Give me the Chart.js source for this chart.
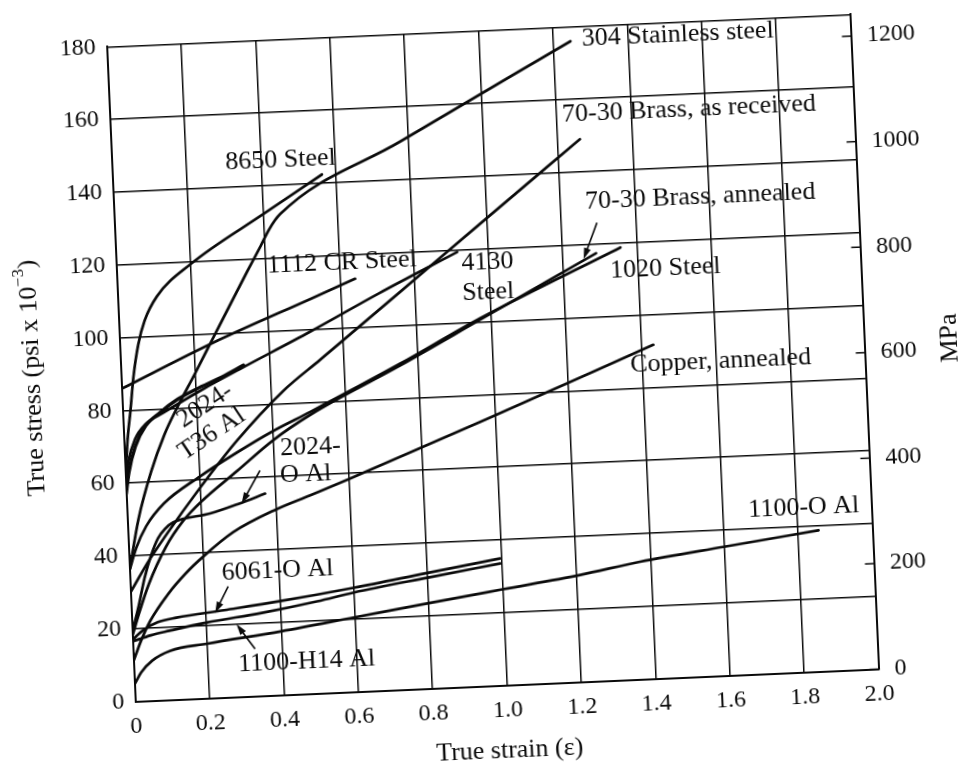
<!DOCTYPE html>
<html>
<head>
<meta charset="utf-8">
<style>
html,body{margin:0;padding:0;background:#fff;overflow:hidden;width:961px;height:767px;}
#wrap{position:absolute;left:0;top:0;width:961px;height:767px;transform-origin:492.5px 355px;transform:rotate(-2.5deg);}
canvas{display:block;}
</style>
<script src="https://cdn.jsdelivr.net/npm/chart.js@4.4.1/dist/chart.umd.min.js"></script>
</head>
<body>
<div id="wrap"><canvas id="c" width="961" height="767"></canvas></div>
<script>
// ---- tick labels ----
const strainTicks = [0, 0.2, 0.4, 0.6, 0.8, 1.0, 1.2, 1.4, 1.6, 1.8, 2.0];
const stressTicks = [0, 20, 40, 60, 80, 100, 120, 140, 160, 180];
const mpaTicks = [0, 200, 400, 600, 800, 1000, 1200];

// ---- series: [true strain, true stress (ksi)] ----
const steel8650 = [[0,60],[0.008,70],[0.014,75],[0.02,79],[0.033,89],[0.05,98],[0.07,104.5],[0.106,111],[0.2,119.4],[0.4,132.2],[0.563,142.4]];
const ss304 = [[0,36],[0.03,50],[0.07,63],[0.11,73],[0.146,80],[0.2,89.5],[0.258,100],[0.35,116.5],[0.39,123.5],[0.415,128],[0.446,132],[0.777,150.5],[1.246,176]];
const cr1112 = [[0,86],[0.25,97.5],[0.52,108.5],[0.64,113.4]];
const steel4130 = [[0,60],[0.01,66],[0.03,72],[0.06,76],[0.109,78.9],[0.22,85],[0.32,90],[0.513,99.4],[0.7,109],[0.917,119.5]];
const al2024T36 = [[0,57],[0.01,63],[0.03,70],[0.06,75.5],[0.1,79],[0.15,82.5],[0.2,85],[0.27,88],[0.33,91]];
const brassAsReceived = [[0,30],[0.05,38],[0.1,45],[0.2,58],[0.3,70],[0.434,83.5],[0.537,91.6],[0.75,108.5],[0.982,127],[1.26,149]];
const brassAnnealed = [[0,18],[0.02,24],[0.05,32],[0.1,42],[0.15,49],[0.2,54],[0.3,62],[0.4,70],[0.504,76.6],[0.75,89],[0.97,100.6],[1.29,117.5]];
const steel1020 = [[0,36],[0.02,42],[0.05,48],[0.1,54],[0.2,61],[0.3,67],[0.4,72.5],[0.504,77.4],[0.75,89.5],[0.97,101],[1.356,118.8]];
const copperAnnealed = [[0,11],[0.02,16],[0.05,22],[0.1,29],[0.15,34.5],[0.2,39],[0.283,45.3],[0.4,51],[0.494,54.5],[0.603,58.6],[0.977,73.3],[1.433,91.7]];
const al2024O = [[0,19],[0.02,26],[0.04,34],[0.06,40],[0.08,44.5],[0.1,47],[0.123,48.7],[0.223,50.7],[0.3,53],[0.373,55.5]];
const al6061O = [[0,17],[0.03,19.5],[0.07,21.5],[0.12,22.5],[0.25,24],[0.4,25.8],[0.6,28.6],[0.8,31.8],[0.996,34.9]];
const al1100H14 = [[0,16.5],[0.05,18],[0.1,19],[0.2,20.8],[0.35,22.8],[0.5,25.3],[0.6,27.3],[0.8,30.5],[0.996,33.5]];
const al1100O = [[0,4.7],[0.02,8],[0.05,11],[0.1,13.5],[0.2,15],[0.4,17.5],[0.6,20.5],[0.8,23.5],[1.0,26.4],[1.209,29.4],[1.372,32.3],[1.598,35.4],[1.855,38.8]];

const KSI_TO_MPA = 6.894757;
const INK = '#0a0a0a';
const SERIF = '"Liberation Serif", "DejaVu Serif", serif';

const series = [
  {name:'8650 Steel', pts: steel8650},
  {name:'304 Stainless steel', pts: ss304},
  {name:'1112 CR Steel', pts: cr1112},
  {name:'4130 Steel', pts: steel4130},
  {name:'2024-T36 Al', pts: al2024T36, w: 3.4},
  {name:'70-30 Brass, as received', pts: brassAsReceived},
  {name:'70-30 Brass, annealed', pts: brassAnnealed},
  {name:'1020 Steel', pts: steel1020},
  {name:'Copper, annealed', pts: copperAnnealed},
  {name:'2024-O Al', pts: al2024O},
  {name:'6061-O Al', pts: al6061O},
  {name:'1100-H14 Al', pts: al1100H14},
  {name:'1100-O Al', pts: al1100O}
];

// annotation texts, anchored in data coordinates
const notes = [
  {t:'304 Stainless steel', e:1.277, s:176.5},
  {t:'70-30 Brass, as received', e:1.215, s:155.8},
  {t:'70-30 Brass, annealed', e:1.267, s:131.6},
  {t:'1020 Steel', e:1.326, s:112.6},
  {t:'Copper, annealed', e:1.369, s:86.5},
  {t:'1100-O Al', e:1.669, s:45.1},
  {t:'8650 Steel', e:0.305, s:146.7},
  {t:'1112 CR Steel', e:0.405, s:118.1},
  {t:'4130', e:0.997, s:116.4, a:'center'},
  {t:'Steel', e:0.996, s:108.2, a:'center'},
  {t:'2024-', e:0.419, s:67.8},
  {t:'O Al', e:0.415, s:60.2},
  {t:'6061-O Al', e:0.247, s:34.1},
  {t:'1100-H14 Al', e:0.281, s:9.0},
  {t:'2024-', e:0.222, s:80.4, a:'center', r:-31},
  {t:'T36 Al', e:0.237, s:72.5, a:'center', r:-31}
];
const arrows = [
  {e0:1.296, s0:125.9, e1:1.256, s1:116.1},
  {e0:0.362, s0:61.9, e1:0.309, s1:53.1},
  {e0:0.263, s0:30.5, e1:0.225, s1:23.4},
  {e0:0.328, s0:13.0, e1:0.281, s1:20.0}
];

const decor = {
  id:'decor',
  afterDraw(chart){
    const {ctx, chartArea:ca, scales} = chart;
    const x = scales.x, y = scales.y, yR = scales.yR;
    ctx.save();
    ctx.fillStyle = INK; ctx.strokeStyle = INK;
    ctx.font = '26px ' + SERIF;
    ctx.textBaseline = 'middle';
    notes.forEach(n => {
      ctx.save();
      ctx.translate(x.getPixelForValue(n.e), y.getPixelForValue(n.s));
      if (n.r) ctx.rotate(n.r * Math.PI / 180);
      ctx.textAlign = n.a || 'left';
      ctx.fillText(n.t, 0, 0);
      ctx.restore();
    });
    ctx.lineWidth = 1.6;
    arrows.forEach(a => {
      const x0 = x.getPixelForValue(a.e0), y0 = y.getPixelForValue(a.s0);
      const x1 = x.getPixelForValue(a.e1), y1 = y.getPixelForValue(a.s1);
      const ang = Math.atan2(y1 - y0, x1 - x0);
      ctx.beginPath(); ctx.moveTo(x0, y0); ctx.lineTo(x1 - 6*Math.cos(ang), y1 - 6*Math.sin(ang)); ctx.stroke();
      ctx.beginPath();
      ctx.moveTo(x1, y1);
      ctx.lineTo(x1 - 11*Math.cos(ang) + 3.5*Math.sin(ang), y1 - 11*Math.sin(ang) - 3.5*Math.cos(ang));
      ctx.lineTo(x1 - 11*Math.cos(ang) - 3.5*Math.sin(ang), y1 - 11*Math.sin(ang) + 3.5*Math.cos(ang));
      ctx.closePath(); ctx.fill();
    });
    // small inner tick marks of the MPa scale
    ctx.lineWidth = 1.5;
    mpaTicks.forEach(v => {
      const py = yR.getPixelForValue(v);
      ctx.beginPath(); ctx.moveTo(ca.right - 9, py); ctx.lineTo(ca.right, py); ctx.stroke();
    });
    // right title "MPa" (reads bottom to top)
    ctx.save();
    ctx.translate(950.5, (ca.top + ca.bottom) / 2);
    ctx.rotate(-Math.PI / 2);
    ctx.textAlign = 'center';
    ctx.font = '26px ' + SERIF;
    ctx.fillText('MPa', 0, 0);
    ctx.restore();
    // left title with superscript
    ctx.save();
    ctx.translate(32.5, (ca.top + ca.bottom) / 2);
    ctx.rotate(-Math.PI / 2);
    ctx.textAlign = 'left';
    const big = '26px ' + SERIF, small = '17px ' + SERIF;
    const p1 = 'True stress (psi x 10', p2 = '\u22123', p3 = ')';
    ctx.font = big; const w1 = ctx.measureText(p1).width, w3 = ctx.measureText(p3).width;
    ctx.font = small; const w2 = ctx.measureText(p2).width;
    let sx = -(w1 + w2 + w3) / 2;
    ctx.font = big; ctx.fillText(p1, sx, 0); sx += w1;
    ctx.font = small; ctx.fillText(p2, sx, -10); sx += w2;
    ctx.font = big; ctx.fillText(p3, sx, 0);
    ctx.restore();
    ctx.restore();
  }
};

const datasets = series.map(s => ({
  label: s.name,
  data: s.pts.map(p => ({x: p[0], y: p[1]})),
  borderColor: INK,
  borderWidth: s.w || 2.7,
  pointRadius: 0,
  fill: false,
  cubicInterpolationMode: 'monotone',
  borderCapStyle: 'round',
  borderJoinStyle: 'round'
}));

const gridStyle = {color: INK, lineWidth: 1.5, drawTicks: false};

new Chart(document.getElementById('c'), {
  type: 'line',
  data: {datasets},
  options: {
    responsive: false,
    animation: false,
    devicePixelRatio: 1,
    layout: {padding: {top: 24.7, left: 0, right: 0, bottom: 0}},
    plugins: {legend: {display: false}, tooltip: {enabled: false}},
    scales: {
      x: {
        type: 'linear', min: 0, max: 2.0,
        afterBuildTicks: s => { s.ticks = strainTicks.map(v => ({value: v})); },
        afterFit: s => { s.height = 81.4; },
        grid: gridStyle,
        border: {display: true, color: INK, width: 2},
        ticks: {
          color: INK, font: {family: SERIF, size: 24}, padding: 11,
          autoSkip: false, maxRotation: 0,
          callback: v => v === 0 ? '0' : Number(v).toFixed(1)
        },
        title: {display: true, text: 'True strain (\u03b5)', color: INK,
                font: {family: SERIF, size: 26}, padding: {top: 0, bottom: 0}}
      },
      y: {
        type: 'linear', position: 'left', min: 0, max: 180,
        afterBuildTicks: s => { s.ticks = stressTicks.map(v => ({value: v})); },
        afterFit: s => { s.width = 120.5; },
        grid: gridStyle,
        border: {display: true, color: INK, width: 2},
        ticks: {color: INK, font: {family: SERIF, size: 24}, padding: 11,
                callback: v => String(v)}
      },
      yR: {
        type: 'linear', position: 'right', min: 0, max: 180 * KSI_TO_MPA,
        afterBuildTicks: s => { s.ticks = mpaTicks.map(v => ({value: v})); },
        afterFit: s => { s.width = 96.5; },
        grid: {drawOnChartArea: false, drawTicks: false},
        border: {display: true, color: INK, width: 2},
        ticks: {color: INK, font: {family: SERIF, size: 24}, padding: 16,
                callback: v => String(v)}
      }
    }
  },
  plugins: [decor]
});
</script>
</body>
</html>
